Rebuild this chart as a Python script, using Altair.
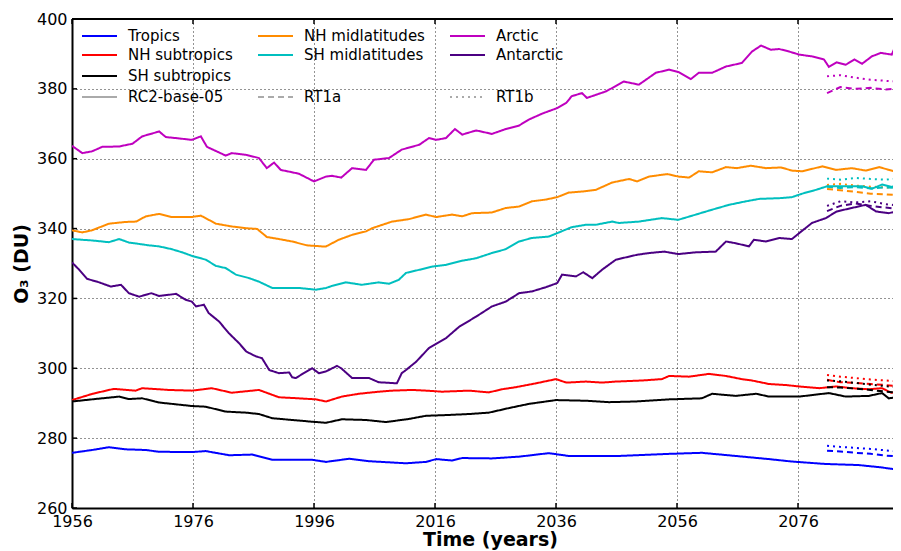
import altair as alt
import pandas as pd

# ---------------- data ----------------
series_names = ["Tropics", "NH subtropics", "SH subtropics", "NH midlatitudes",
                "SH midlatitudes", "Arctic", "Antarctic"]
series_colors = ["#0000ff", "#ff0000", "#000000", "#ff8c00", "#00bfbf", "#bf00bf", "#4b0082"]

arctic_years = [1956, 1957.7, 1959.3, 1961, 1963.8, 1966, 1967.6, 1970.4, 1971.5, 1973.2, 1975.8,
                1977.3, 1978.3, 1981.4, 1982.4, 1984.8, 1986.9, 1988.2, 1989.4, 1990.5, 1993.5, 1996,
                1998, 1999, 2000.5, 2002.3, 2004.6, 2005.9, 2008.4, 2010.5, 2013.4, 2015, 2016.2,
                2017.8, 2019.3, 2020.5, 2022.8, 2025.4, 2027.7, 2029.9, 2031.5, 2033.7, 2036.2,
                2037.7, 2038.6, 2040.3, 2041.1, 2044.3, 2047.2, 2049.7, 2052.5, 2054.7, 2056.3,
                2058.3, 2059.6, 2061.8, 2064.1, 2066.7, 2068.4, 2069.9, 2071.5, 2072.9, 2074.5,
                2076.2, 2078.3, 2080.3, 2081.1, 2082.4, 2083.9, 2085.3, 2086.6, 2088.2, 2089.7,
                2091.5, 2092.2, 2092.9]
arctic_vals = [363.7, 361.6, 362.1, 363.4, 363.5, 364.3, 366.4, 367.8, 366.2, 365.9, 365.4,
               366.4, 363.4, 360.9, 361.6, 361.1, 360.2, 357.3, 358.9, 356.8, 355.7, 353.5,
               354.9, 355.1, 354.6, 357.3, 356.8, 359.7, 360.2, 362.6, 364.0, 365.9, 365.4,
               365.9, 368.5, 366.9, 368.1, 367.1, 368.5, 369.5, 371.2, 372.9, 374.5,
               376.0, 377.9, 378.8, 377.4, 379.3, 382.1, 381.2, 384.6, 385.5, 384.8,
               382.8, 384.6, 384.6, 386.4, 387.4, 390.7, 392.4, 391.2, 391.4, 390.7,
               389.8, 389.3, 388.4, 386.3, 387.6, 386.9, 388.4, 387.2, 389.3, 390.3,
               389.8, 392.7, 392.2]

nhmid_years = [1956, 1957.7, 1959.3, 1962.1, 1964.9, 1966.6, 1968.2, 1970.4, 1972.5, 1975.7, 1977.3,
               1979.8, 1982.4, 1984.8, 1986.6, 1988.2, 1990.2, 1992.4, 1994.8, 1997.3, 1998, 2000.1,
               2002.3, 2004.6, 2005.6, 2008.9, 2011.7, 2014.5, 2016.2, 2018.8, 2020.5, 2022.1,
               2025.4, 2027.7, 2029.9, 2032, 2034.3, 2036.2, 2038.1, 2040.3, 2042.6, 2045.3,
               2048.1, 2049.4, 2051.4, 2054.4, 2056.2, 2058, 2059.6, 2061.8, 2064.1, 2065.9,
               2068.2, 2070.7, 2073.2, 2075, 2076.7, 2080, 2082.3, 2084.9, 2087.2, 2089.4,
               2091.9, 2092.7]
nhmid_vals = [339.5, 338.9, 339.5, 341.4, 341.9, 342.0, 343.5, 344.2, 343.3, 343.3, 343.7,
              341.4, 340.6, 340.1, 339.9, 337.6, 337.0, 336.3, 335.2, 334.9, 334.9, 336.8,
              338.2, 339.2, 340.1, 342.0, 342.7, 344.0, 343.3, 344.0, 343.5, 344.4,
              344.6, 345.9, 346.3, 347.8, 348.3, 349.0, 350.3, 350.6, 351.1, 353.2,
              354.2, 353.5, 354.9, 355.6, 354.9, 354.6, 356.4, 356.1, 357.6, 357.3,
              358.0, 357.3, 357.5, 356.6, 356.4, 357.8, 356.8, 357.3, 356.6, 357.6,
              356.4, 357.8]

shmid_years = [1956, 1959.3, 1962.1, 1963.8, 1965.4, 1967.1, 1968.7, 1970.4, 1972.5, 1974.2, 1975.8,
               1978.1, 1979.8, 1981.4, 1983.1, 1985.3, 1986.9, 1989.1, 1991.4, 1993.5, 1996.3,
               1998, 1999, 2001.3, 2003.9, 2006.7, 2008.4, 2010, 2011.2, 2013.4, 2015.5, 2017.8,
               2020.5, 2022.8, 2025.4, 2027.7, 2029.9, 2032, 2034.8, 2036.2, 2038.6, 2041,
               2042.6, 2045.3, 2046.4, 2049.7, 2053.5, 2056.2, 2059.1, 2061.8, 2064.6, 2067.4,
               2069.6, 2072.9, 2075, 2076.7, 2079, 2080.8, 2083.9, 2086.6, 2088.2, 2089.9,
               2091.5, 2092.9]
shmid_vals = [337.0, 336.6, 336.1, 337.0, 336.0, 335.6, 335.2, 334.9, 334.1, 333.2, 332.2,
              331.1, 329.3, 328.7, 326.8, 325.8, 324.8, 323.0, 323.0, 323.0, 322.5,
              323.0, 323.6, 324.6, 323.9, 324.6, 324.2, 325.3, 327.3, 328.2, 329.1, 329.6,
              330.8, 331.5, 333.0, 334.1, 336.3, 337.3, 337.7, 338.7, 340.4, 341.1,
              341.1, 342.0, 341.6, 342.0, 343.0, 342.5, 344.0, 345.4, 346.8, 347.8,
              348.5, 348.7, 349.0, 350.0, 351.1, 352.1, 352.1, 352.1, 351.4, 352.6,
              351.9, 353.0]

antarctic_years = [1956, 1957.2, 1958.5, 1960.5, 1962.4, 1964.1, 1965.4, 1967.1, 1969.1, 1970.4,
                   1973.2, 1974.8, 1975.8, 1976.5, 1977.8, 1978.6, 1980.3, 1981.9, 1983.6, 1984.8,
                   1986.4, 1987.4, 1988.6, 1990.2, 1991.9, 1992.4, 1993, 1994.3, 1995.7, 1996.8,
                   1998, 1999.8, 2000.5, 2002.3, 2005.1, 2006.7, 2009.7, 2010.5, 2011.2, 2012.9,
                   2015, 2017.8, 2020, 2022.8, 2025.4, 2027.7, 2029.9, 2032, 2034.3, 2036.2,
                   2037, 2039.3, 2040.5, 2042, 2043.6, 2045.9, 2049.4, 2051.4, 2053.9, 2056.2,
                   2059.1, 2062.4, 2064.1, 2065.7, 2067.9, 2068.7, 2070.7, 2072.9, 2075, 2076.2,
                   2078.3, 2080.6, 2082.4, 2084.9, 2087.2, 2088.9, 2091, 2092.9]
antarctic_vals = [330.3, 328.2, 325.6, 324.6, 323.4, 323.9, 321.5, 320.5, 321.5, 320.7,
                  321.3, 319.6, 319.1, 317.7, 318.2, 315.8, 313.4, 310.1, 307.2, 304.8,
                  303.4, 302.9, 299.5, 298.6, 298.8, 297.4, 297.2, 298.6, 300.0, 298.6,
                  299.1, 300.7, 300.0, 297.2, 297.2, 296.0, 295.7, 298.6, 299.5, 301.9,
                  305.8, 308.6, 311.9, 314.8, 317.7, 319.1, 321.5, 322.0, 323.2, 324.4,
                  326.8, 326.3, 327.5, 325.8, 328.2, 331.1, 332.5, 333.0, 333.4, 332.7,
                  333.2, 333.4, 336.3, 335.8, 334.9, 336.8, 336.3, 337.3, 337.0, 338.7,
                  341.6, 343.0, 344.9, 345.9, 346.8, 344.9, 344.4, 345.2]

nhsub_years = [1956, 1959.4, 1962.9, 1966.5, 1967.6, 1972, 1975.8, 1979.1, 1982.4, 1986.9, 1990.2,
               1993.5, 1996.3, 1998, 2000.6, 2003.4, 2006.7, 2008.9, 2012.2, 2014.5, 2017.2,
               2021.6, 2024.9, 2027.1, 2029.4, 2032.7, 2036, 2037.7, 2041, 2043.6, 2045.9,
               2050.2, 2053.5, 2054.7, 2058, 2061.3, 2064.1, 2066.7, 2068.4, 2071.2, 2074,
               2076.2, 2079.5, 2082.3, 2084.9, 2087.7, 2089.9, 2091.4, 2092.9]
nhsub_vals = [290.9, 292.7, 294.1, 293.6, 294.3, 293.8, 293.6, 294.3, 293.0, 293.8, 291.7,
              291.4, 291.1, 290.5, 291.9, 292.7, 293.3, 293.6, 293.8, 293.6, 293.3,
              293.6, 293.1, 294.0, 294.6, 295.7, 296.9, 295.9, 296.2, 295.9, 296.2,
              296.5, 296.9, 297.8, 297.6, 298.4, 297.8, 296.9, 296.5, 295.5, 295.2,
              294.8, 294.3, 294.8, 294.3, 294.0, 294.3, 293.0, 293.3]

shsub_years = [1956, 1959.3, 1963.8, 1965.4, 1967.6, 1970.4, 1975.8, 1978.1, 1981.4, 1984.8, 1986.9,
               1989.1, 1992.4, 1995.7, 1998, 2000.6, 2004.6, 2007.9, 2011.7, 2014.5, 2017.8,
               2021.6, 2024.9, 2028.2, 2031.5, 2036, 2041, 2044.8, 2049.2, 2054.7, 2060.1,
               2061.8, 2065.7, 2069.1, 2071.2, 2076.2, 2081.1, 2083.9, 2087.7, 2089.9, 2091,
               2092.9]
shsub_vals = [290.5, 291.1, 291.9, 291.2, 291.4, 290.2, 289.2, 289.0, 287.6, 287.3, 286.9,
              285.7, 285.2, 284.7, 284.4, 285.4, 285.2, 284.6, 285.5, 286.4, 286.6,
              286.9, 287.3, 288.6, 289.8, 290.9, 290.7, 290.3, 290.5, 291.1, 291.4,
              292.7, 292.1, 292.7, 291.9, 291.9, 292.9, 291.9, 292.1, 292.9, 291.4,
              291.9]

tropics_years = [1956, 1959.3, 1962.1, 1964.9, 1968.2, 1970.4, 1975.8, 1978.1, 1982, 1985.8, 1989.1,
                 1995.7, 1998, 2001.8, 2005.1, 2011.2, 2014.5, 2016.2, 2018.8, 2020.5, 2025.4,
                 2029.9, 2034.8, 2038.1, 2046.4, 2054.7, 2060.1, 2065.7, 2071.2, 2075, 2080.6,
                 2086, 2089.4, 2092.9]
tropics_vals = [275.8, 276.6, 277.4, 276.8, 276.6, 276.1, 276.0, 276.3, 275.1, 275.3, 273.8,
                273.8, 273.2, 274.1, 273.4, 272.8, 273.2, 274.0, 273.6, 274.3, 274.2,
                274.7, 275.7, 274.9, 274.9, 275.5, 275.8, 274.9, 274.0, 273.3, 272.6,
                272.3, 271.7, 270.9]

# Sensitivity runs (short segments at the end)
rt_years = [2080.8, 2083, 2085.5, 2088, 2090.5, 2092.9]
rt1a = {
    "Tropics":         [276.4, 276.2, 275.8, 275.5, 275.0, 274.7],
    "NH subtropics":   [296.7, 296.0, 295.8, 295.5, 295.2, 294.8],
    "SH subtropics":   [294.6, 294.5, 294.2, 293.8, 293.3, 293.0],
    "NH midlatitudes": [351.3, 351.0, 350.5, 350.0, 349.8, 349.5],
    "SH midlatitudes": [352.0, 351.6, 351.9, 351.5, 351.8, 351.5],
    "Arctic":          [378.8, 380.5, 380.0, 380.3, 379.8, 380.2],
    "Antarctic":       [345.0, 346.5, 347.2, 346.5, 346.0, 345.5],
}
rt1b = {
    "Tropics":         [277.8, 277.5, 277.2, 276.9, 276.5, 276.1],
    "NH subtropics":   [298.1, 297.6, 297.2, 296.8, 296.5, 296.2],
    "SH subtropics":   [296.5, 296.3, 295.8, 295.3, 294.9, 294.5],
    "NH midlatitudes": [352.5, 352.8, 352.3, 352.0, 351.8, 351.5],
    "SH midlatitudes": [354.3, 354.0, 354.5, 354.2, 354.0, 354.4],
    "Arctic":          [383.6, 383.9, 383.2, 382.6, 382.3, 382.0],
    "Antarctic":       [346.5, 347.8, 347.5, 347.8, 347.0, 346.5],
}

x_ticks = [1956, 1976, 1996, 2016, 2036, 2056, 2076]
y_ticks = [260, 280, 300, 320, 340, 360, 380, 400]
scenarios = ["RC2-base-05", "RT1a", "RT1b"]

legend_labels = ["Tropics", "NH subtropics", "SH subtropics", "RC2-base-05",
                 "NH midlatitudes", "SH midlatitudes", "RT1a",
                 "Arctic", "Antarctic", "RT1b"]
legend_cols = [0, 0, 0, 0, 1, 1, 1, 2, 2, 2]
legend_rows = [0, 1, 2, 3, 0, 1, 3, 0, 1, 3]

# ---------------- build tables ----------------
base = {
    "Tropics": (tropics_years, tropics_vals),
    "NH subtropics": (nhsub_years, nhsub_vals),
    "SH subtropics": (shsub_years, shsub_vals),
    "NH midlatitudes": (nhmid_years, nhmid_vals),
    "SH midlatitudes": (shmid_years, shmid_vals),
    "Arctic": (arctic_years, arctic_vals),
    "Antarctic": (antarctic_years, antarctic_vals),
}
rows = []
for s in series_names:
    ys, vs = base[s]
    for y, v in zip(ys, vs):
        rows.append({"series": s, "scenario": "RC2-base-05", "year": y, "value": v})
    for y, v in zip(rt_years, rt1a[s]):
        rows.append({"series": s, "scenario": "RT1a", "year": y, "value": v})
    for y, v in zip(rt_years, rt1b[s]):
        rows.append({"series": s, "scenario": "RT1b", "year": y, "value": v})
df = pd.DataFrame(rows)

W, H = 821, 489
X0, X1 = 1956, 1956 + W / 6.05
dash_scale = alt.Scale(domain=scenarios, range=[[1, 0], [6, 4], [2, 4]])

grid_common = dict(grid=True, gridDash=[1, 3], gridColor="#000000", gridOpacity=0.85, gridWidth=1,
                   domainColor="#000000", domainWidth=2, tickSize=0, labelFontSize=16,
                   labelFont="DejaVu Sans", labelColor="#000000", labelPadding=5,
                   labelOverlap=False, titleFont="DejaVu Sans", titleFontSize=19,
                   titleFontWeight="bold", titleColor="#000000")
x_axis = alt.Axis(values=x_ticks, format="d", title="Time (years)", labelFlush=False,
                  titleX=418, titleY=37, titleBaseline="alphabetic", **grid_common)
y_axis = alt.Axis(values=y_ticks, format="d", title="O₃ (DU)", titleX=-51,
                  titleBaseline="middle", **grid_common)
x_enc = alt.X("year:Q", scale=alt.Scale(domain=[X0, X1], nice=False, zero=False), axis=x_axis)
y_enc = alt.Y("value:Q", scale=alt.Scale(domain=[260, 400], nice=False, zero=False), axis=y_axis)

lines = alt.Chart(df).mark_line(strokeWidth=2, clip=True).encode(
    x=x_enc, y=y_enc,
    color=alt.Color("series:N", scale=alt.Scale(domain=series_names, range=series_colors), legend=None),
    strokeDash=alt.StrokeDash("scenario:N", scale=dash_scale, legend=None),
)

xt = pd.DataFrame({"year": x_ticks})
yt = pd.DataFrame({"value": y_ticks})
tick_bottom = alt.Chart(xt).mark_rule(color="black", strokeWidth=1.5).encode(
    x=x_enc, y=alt.value(H), y2=alt.value(H - 5))
tick_top = alt.Chart(xt).mark_rule(color="black", strokeWidth=1.5).encode(
    x=x_enc, y=alt.value(0), y2=alt.value(5))
tick_left = alt.Chart(yt).mark_rule(color="black", strokeWidth=1.5).encode(
    y=y_enc, x=alt.value(0), x2=alt.value(5))
top_spine = alt.Chart(pd.DataFrame({"year": [X0]})).mark_rule(color="black", strokeWidth=2).encode(
    x=alt.value(0), x2=alt.value(W), y=alt.value(0))

main = alt.layer(lines, tick_bottom, tick_top, tick_left, top_spine)

# ---------------- manual legend (matplotlib-style, 3 columns) ----------------
col_x = [10, 186, 378]
row_y = [17, 36, 57, 78]
leg = []
for lab, c, r in zip(legend_labels, legend_cols, legend_rows):
    if lab in series_names:
        hexc, dash = series_colors[series_names.index(lab)], "RC2-base-05"
    else:
        hexc, dash = "#aaaaaa", lab
    leg.append({"label": lab, "hex": hexc, "dash": dash,
                "lx": col_x[c], "lx2": col_x[c] + 35, "tx": col_x[c] + 46, "ty": row_y[r]})
leg_df = pd.DataFrame(leg)

leg_lines = alt.Chart(leg_df).mark_rule(strokeWidth=2).encode(
    x=alt.X("lx:Q", scale=None, axis=None), x2="lx2:Q",
    y=alt.Y("ty:Q", scale=None, axis=None),
    color=alt.Color("hex:N", scale=None),
    strokeDash=alt.StrokeDash("dash:N", scale=dash_scale, legend=None),
)
leg_text = alt.Chart(leg_df).mark_text(align="left", baseline="middle", fontSize=15,
                                       font="DejaVu Sans", color="black").encode(
    x=alt.X("tx:Q", scale=None, axis=None),
    y=alt.Y("ty:Q", scale=None, axis=None),
    text="label:N",
)

chart = alt.layer(main, leg_lines, leg_text).resolve_scale(
    x="independent", y="independent", color="independent", strokeDash="independent"
).properties(
    width=W, height=H,
    autosize=alt.AutoSizeParams(type="none"),
    padding={"left": 64, "top": 11, "right": 0, "bottom": 46},
).configure_view(stroke=None).configure(font="DejaVu Sans")

chart.save("out.html", embed_options={"renderer": "svg", "actions": False})
